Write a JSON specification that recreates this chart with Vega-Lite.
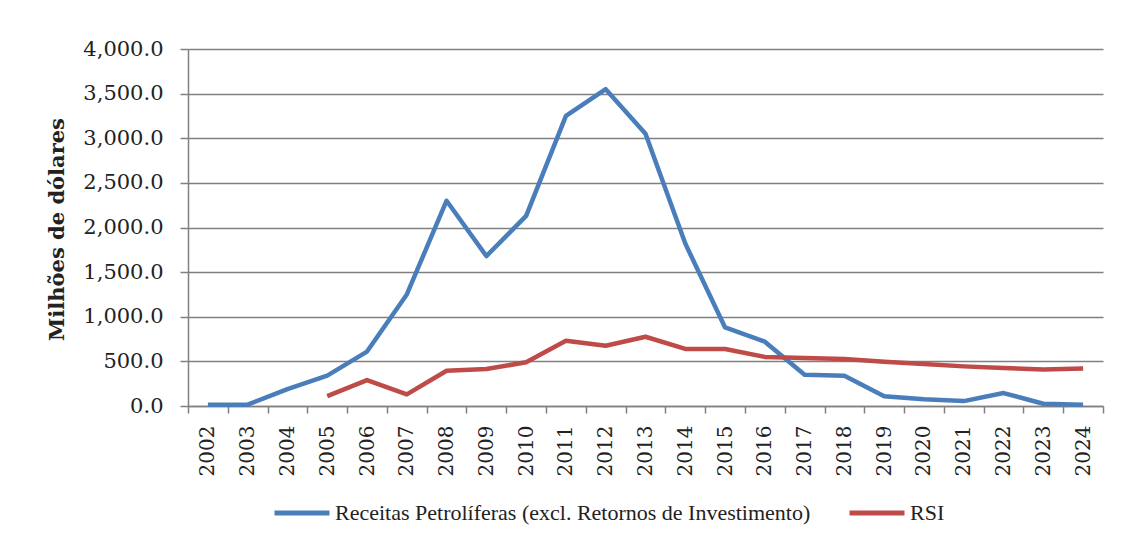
{
  "$schema": "https://vega.github.io/schema/vega-lite/v6.json",
  "width": 915,
  "height": 357,
  "autosize": {"type": "none"},
  "padding": {"left": 188, "top": 49, "right": 33, "bottom": 146},
  "background": "white",
  "config": {"view": {"stroke": null}, "font": "DejaVu Serif"},
  "data": {
    "values": [
      {"ano": "2002", "serie": "Receitas Petrolíferas (excl. Retornos de Investimento)", "valor": 15},
      {"ano": "2003", "serie": "Receitas Petrolíferas (excl. Retornos de Investimento)", "valor": 15},
      {"ano": "2004", "serie": "Receitas Petrolíferas (excl. Retornos de Investimento)", "valor": 190},
      {"ano": "2005", "serie": "Receitas Petrolíferas (excl. Retornos de Investimento)", "valor": 340},
      {"ano": "2006", "serie": "Receitas Petrolíferas (excl. Retornos de Investimento)", "valor": 610},
      {"ano": "2007", "serie": "Receitas Petrolíferas (excl. Retornos de Investimento)", "valor": 1250},
      {"ano": "2008", "serie": "Receitas Petrolíferas (excl. Retornos de Investimento)", "valor": 2300},
      {"ano": "2009", "serie": "Receitas Petrolíferas (excl. Retornos de Investimento)", "valor": 1680},
      {"ano": "2010", "serie": "Receitas Petrolíferas (excl. Retornos de Investimento)", "valor": 2130},
      {"ano": "2011", "serie": "Receitas Petrolíferas (excl. Retornos de Investimento)", "valor": 3250},
      {"ano": "2012", "serie": "Receitas Petrolíferas (excl. Retornos de Investimento)", "valor": 3550},
      {"ano": "2013", "serie": "Receitas Petrolíferas (excl. Retornos de Investimento)", "valor": 3050},
      {"ano": "2014", "serie": "Receitas Petrolíferas (excl. Retornos de Investimento)", "valor": 1820},
      {"ano": "2015", "serie": "Receitas Petrolíferas (excl. Retornos de Investimento)", "valor": 880},
      {"ano": "2016", "serie": "Receitas Petrolíferas (excl. Retornos de Investimento)", "valor": 720},
      {"ano": "2017", "serie": "Receitas Petrolíferas (excl. Retornos de Investimento)", "valor": 350},
      {"ano": "2018", "serie": "Receitas Petrolíferas (excl. Retornos de Investimento)", "valor": 340},
      {"ano": "2019", "serie": "Receitas Petrolíferas (excl. Retornos de Investimento)", "valor": 110},
      {"ano": "2020", "serie": "Receitas Petrolíferas (excl. Retornos de Investimento)", "valor": 75},
      {"ano": "2021", "serie": "Receitas Petrolíferas (excl. Retornos de Investimento)", "valor": 55},
      {"ano": "2022", "serie": "Receitas Petrolíferas (excl. Retornos de Investimento)", "valor": 145},
      {"ano": "2023", "serie": "Receitas Petrolíferas (excl. Retornos de Investimento)", "valor": 25},
      {"ano": "2024", "serie": "Receitas Petrolíferas (excl. Retornos de Investimento)", "valor": 15},
      {"ano": "2005", "serie": "RSI", "valor": 110},
      {"ano": "2006", "serie": "RSI", "valor": 290},
      {"ano": "2007", "serie": "RSI", "valor": 130},
      {"ano": "2008", "serie": "RSI", "valor": 395},
      {"ano": "2009", "serie": "RSI", "valor": 414},
      {"ano": "2010", "serie": "RSI", "valor": 490},
      {"ano": "2011", "serie": "RSI", "valor": 730},
      {"ano": "2012", "serie": "RSI", "valor": 675},
      {"ano": "2013", "serie": "RSI", "valor": 776},
      {"ano": "2014", "serie": "RSI", "valor": 640},
      {"ano": "2015", "serie": "RSI", "valor": 638},
      {"ano": "2016", "serie": "RSI", "valor": 550},
      {"ano": "2017", "serie": "RSI", "valor": 538},
      {"ano": "2018", "serie": "RSI", "valor": 526},
      {"ano": "2019", "serie": "RSI", "valor": 496},
      {"ano": "2020", "serie": "RSI", "valor": 470},
      {"ano": "2021", "serie": "RSI", "valor": 444},
      {"ano": "2022", "serie": "RSI", "valor": 425},
      {"ano": "2023", "serie": "RSI", "valor": 410},
      {"ano": "2024", "serie": "RSI", "valor": 421}
    ]
  },
  "mark": {"type": "line", "strokeWidth": 4.5, "strokeJoin": "round"},
  "encoding": {
    "x": {
      "field": "ano",
      "type": "ordinal",
      "bandPosition": 0.5,
      "scale": {"type": "band", "paddingInner": 0, "paddingOuter": 0},
      "axis": {
        "title": null,
        "labelAngle": -90,
        "labelAlign": "right",
        "labelBaseline": "middle",
        "labelFont": "DejaVu Serif",
        "labelFontSize": 20,
        "labelColor": "#222222",
        "labelPadding": 12,
        "tickBand": "extent",
        "tickSize": 7,
        "tickColor": "#808080",
        "tickWidth": 1.5,
        "domainColor": "#808080",
        "domainWidth": 1.5,
        "grid": false
      }
    },
    "y": {
      "field": "valor",
      "type": "quantitative",
      "scale": {"domain": [0, 4000]},
      "axis": {
        "title": "Milhões de dólares",
        "titleFont": "DejaVu Serif",
        "titleFontWeight": "bold",
        "titleFontSize": 21,
        "titleColor": "#222222",
        "titleAngle": -90,
        "titleAlign": "center",
        "titleBaseline": "middle",
        "titleX": -131,
        "titleY": 180,
        "values": [0, 500, 1000, 1500, 2000, 2500, 3000, 3500, 4000],
        "format": ",.1f",
        "labelFont": "DejaVu Serif",
        "labelFontSize": 21,
        "labelColor": "#222222",
        "labelPadding": 17,
        "tickSize": 8,
        "tickColor": "#808080",
        "tickWidth": 1.5,
        "domainColor": "#808080",
        "domainWidth": 1.5,
        "grid": true,
        "gridColor": "#808080",
        "gridWidth": 1.5
      }
    },
    "color": {
      "field": "serie",
      "type": "nominal",
      "scale": {
        "domain": ["Receitas Petrolíferas (excl. Retornos de Investimento)", "RSI"],
        "range": ["#4A7EBB", "#BE4B48"]
      },
      "legend": {
        "title": null,
        "orient": "none",
        "legendX": 84,
        "legendY": 434,
        "direction": "horizontal",
        "symbolType": "stroke",
        "symbolSize": 3025,
        "symbolStrokeWidth": 5,
        "labelFont": "Liberation Serif",
        "labelFontSize": 22,
        "labelColor": "#222222",
        "labelOffset": 3,
        "labelLimit": 0,
        "columnPadding": 28,
        "padding": 0
      }
    }
  }
}
